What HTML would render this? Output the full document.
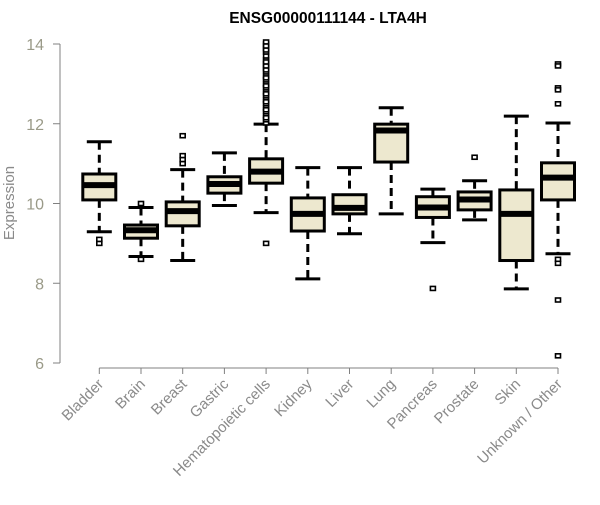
<!DOCTYPE html>
<html><head><meta charset="utf-8"><style>
body{margin:0;background:#fff}
svg text{font-family:"Liberation Sans",Arial,sans-serif}
</style></head><body>
<svg id="chart" width="600" height="500">
<text x="328" y="23" text-anchor="middle" font-weight="bold" font-size="15.5">ENSG00000111144 - LTA4H</text>
<text transform="translate(14,203) rotate(-90)" text-anchor="middle" font-size="15" fill="#8a8a8a">Expression</text>
<g id="axes"></g><g id="boxes"></g>
</svg>
<script>
const categories=["Bladder","Brain","Breast","Gastric","Hematopoietic cells","Kidney","Liver","Lung","Pancreas","Prostate","Skin","Unknown / Other"];
const lowerWhisker=[9.29,8.67,8.57,9.95,9.77,8.11,9.24,9.74,9.02,9.59,7.86,8.74];
const q1=[10.09,9.13,9.44,10.26,10.51,9.31,9.74,11.04,9.65,9.84,8.57,10.09];
const median=[10.46,9.33,9.81,10.49,10.8,9.74,9.89,11.83,9.9,10.1,9.74,10.65];
const q3=[10.74,9.46,10.04,10.67,11.12,10.14,10.22,11.99,10.17,10.29,10.34,11.02];
const upperWhisker=[11.55,9.9,10.85,11.27,11.99,10.9,10.9,12.4,10.36,10.57,12.19,12.02];
const outliers=[[9.0,9.1],[10.0,8.6],[11.7,11.2,11.1,11.0],[],
[9.0,12.02,12.1,12.2,12.3,12.4,12.5,12.6,12.7,12.8,12.9,13.0,13.1,13.2,13.3,13.4,13.5,13.6,13.7,13.8,13.9,14.0,14.05,12.15,12.35,12.55,12.75,12.95,13.15,13.35,13.45,13.55,13.85,13.95],
[],[],[],[7.87],[11.16],[],[13.5,13.45,12.9,12.85,12.5,8.6,8.5,7.58,6.18]];
const yTicks=[6,8,10,12,14];
const NS="http://www.w3.org/2000/svg";
const y=v=>363-(v-6)*39.875;
const x=i=>99.3+41.7*i;
const ax=document.getElementById("axes"),bx=document.getElementById("boxes");
function mk(p,t,a){const e=document.createElementNS(NS,t);for(const k in a)e.setAttribute(k,a[k]);p.appendChild(e);return e;}
let l=mk(ax,"line",{x1:60,x2:60,y1:y(14),y2:y(6),stroke:"#808080"});


yTicks.forEach(t=>{
 const tk=mk(ax,"line",{x1:53,x2:60,y1:y(t),y2:y(t),stroke:"#808080"});
 
 
 const tx=mk(ax,"text",{x:44,y:y(t)+6,"text-anchor":"end","font-size":"16",fill:"#9a9a88"});
 tx.textContent=t;
 
 
});
const xl=mk(ax,"line",{x1:x(0),x2:x(11),y1:368,y2:368,stroke:"#808080"});


categories.forEach((c,i)=>{
 const X=x(i);
 const tk=mk(ax,"line",{x1:X,x2:X,y1:368,y2:374,stroke:"#808080"});
 
 
 const tx=mk(ax,"text",{transform:`translate(${X+5},${385}) rotate(-45)`,"text-anchor":"end","font-size":"15",fill:"#8a8a8a"});
 tx.textContent=c;
 
 
 const g=mk(bx,"g",{});
 
 
 const w=16.5,cap=12.5;
 mk(g,"line",{x1:X,x2:X,y1:y(upperWhisker[i]),y2:y(q3[i]),stroke:"#000","stroke-width":3,"stroke-dasharray":"8,5"});
 mk(g,"line",{x1:X,x2:X,y1:y(q1[i]),y2:y(lowerWhisker[i]),stroke:"#000","stroke-width":3,"stroke-dasharray":"8,5"});
 mk(g,"line",{x1:X-cap,x2:X+cap,y1:y(upperWhisker[i]),y2:y(upperWhisker[i]),stroke:"#000","stroke-width":3});
 mk(g,"line",{x1:X-cap,x2:X+cap,y1:y(lowerWhisker[i]),y2:y(lowerWhisker[i]),stroke:"#000","stroke-width":3});
 mk(g,"rect",{x:X-w,y:y(q3[i]),width:2*w,height:y(q1[i])-y(q3[i]),fill:"#ede8cf",stroke:"#000","stroke-width":3});
 mk(g,"line",{x1:X-w,x2:X+w,y1:y(median[i]),y2:y(median[i]),stroke:"#000","stroke-width":6});
 outliers[i].forEach(v=>{
  const o=mk(g,"rect",{x:X-2.5,y:y(v)-2,width:5,height:4,fill:"#fff",stroke:"#000","stroke-width":1.6});
  
  
 });
});
</script>
</body></html>
